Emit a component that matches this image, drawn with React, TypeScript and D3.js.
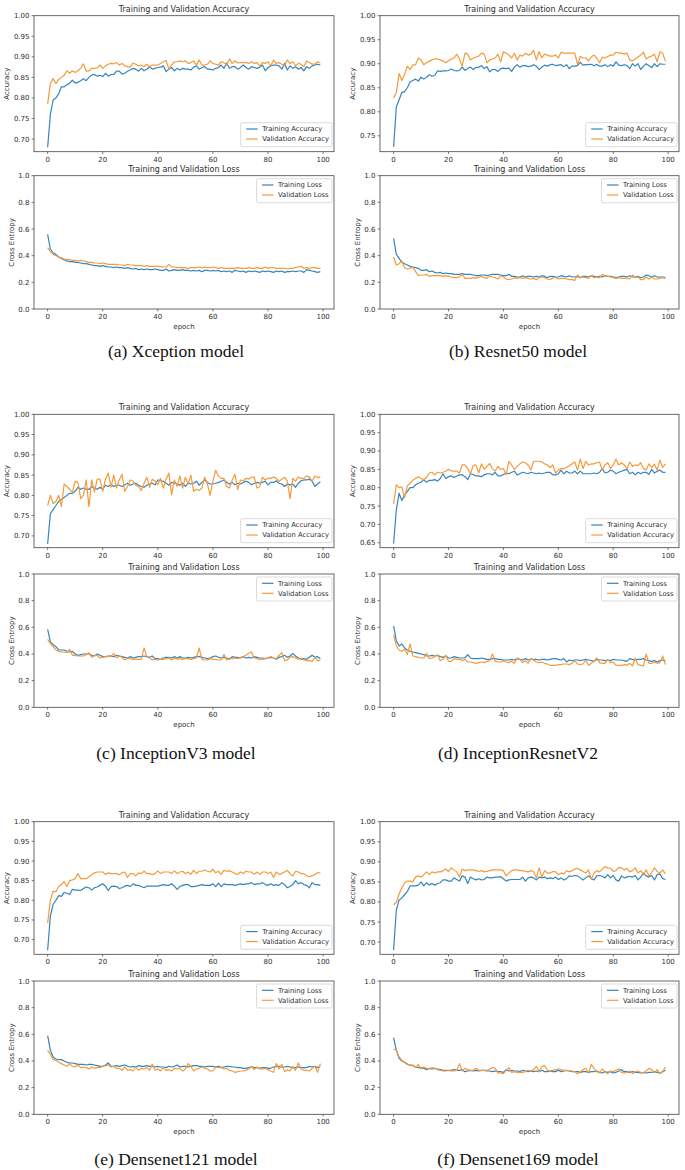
import React from "react";
import * as d3 from "d3";

// ---------------- DATA ----------------
const epochTicks = [0, 20, 40, 60, 80, 100];
const accTickValues = [0.65, 0.7, 0.75, 0.8, 0.85, 0.9, 0.95, 1.0];
const lossTickValues = [0, 0.2, 0.4, 0.6, 0.8, 1.0];

const xceptionTrainAcc = [.680,.760,.795,.800,.810,.827,.827,.832,.836,.843,.836,.838,.842,.847,.842,.850,.856,.857,.853,.855,.852,.860,.853,.857,.857,.865,.865,.858,.860,.865,.868,.872,.870,.865,.872,.866,.870,.876,.870,.872,.874,.875,.878,.864,.870,.874,.866,.872,.868,.872,.870,.870,.868,.875,.878,.870,.874,.876,.870,.870,.868,.872,.874,.880,.872,.885,.872,.876,.876,.870,.874,.880,.874,.870,.876,.874,.872,.875,.880,.866,.874,.878,.880,.880,.878,.870,.884,.868,.878,.872,.876,.870,.874,.866,.876,.872,.878,.880,.882,.880];
const xceptionValAcc = [.785,.835,.847,.835,.845,.850,.855,.866,.860,.866,.862,.866,.872,.883,.865,.866,.872,.872,.873,.880,.872,.878,.882,.884,.883,.886,.880,.884,.878,.876,.875,.885,.882,.878,.880,.876,.882,.876,.880,.880,.880,.884,.888,.891,.870,.880,.888,.888,.890,.888,.890,.884,.886,.890,.880,.892,.880,.880,.882,.890,.884,.882,.880,.888,.886,.880,.895,.884,.890,.885,.886,.886,.886,.884,.888,.884,.886,.878,.886,.884,.888,.878,.892,.884,.886,.882,.878,.892,.884,.888,.878,.884,.882,.876,.890,.886,.882,.882,.888,.885];
const xceptionTrainLoss = [.560,.450,.420,.410,.390,.380,.370,.360,.355,.355,.350,.350,.345,.340,.340,.335,.330,.325,.325,.320,.325,.320,.315,.315,.310,.315,.310,.310,.305,.310,.305,.300,.305,.295,.300,.295,.300,.295,.295,.300,.295,.290,.290,.300,.285,.290,.295,.290,.290,.295,.290,.290,.285,.290,.285,.290,.280,.290,.290,.285,.290,.285,.290,.280,.285,.280,.285,.275,.290,.285,.280,.285,.275,.285,.280,.285,.280,.275,.285,.280,.285,.280,.275,.285,.280,.285,.275,.280,.280,.285,.280,.285,.285,.275,.295,.290,.285,.280,.275,.280];
const xceptionValLoss = [.460,.430,.410,.400,.390,.385,.375,.370,.370,.365,.365,.360,.365,.360,.355,.350,.350,.345,.345,.340,.345,.340,.335,.335,.335,.335,.330,.330,.325,.335,.330,.330,.325,.325,.325,.320,.325,.320,.320,.320,.320,.318,.315,.315,.335,.315,.315,.310,.310,.310,.310,.305,.310,.310,.310,.315,.310,.315,.310,.310,.315,.310,.305,.310,.305,.305,.305,.305,.305,.310,.305,.305,.305,.310,.305,.305,.310,.305,.305,.315,.305,.310,.310,.305,.305,.305,.305,.300,.305,.305,.310,.315,.320,.305,.310,.305,.310,.310,.305,.305];

const resnetTrainAcc = [.727,.810,.825,.840,.842,.850,.862,.865,.868,.864,.872,.868,.872,.877,.874,.876,.885,.884,.885,.885,.886,.889,.886,.885,.886,.893,.886,.890,.893,.888,.892,.893,.896,.890,.894,.883,.888,.888,.884,.890,.891,.890,.891,.884,.893,.898,.893,.896,.896,.894,.895,.898,.895,.888,.893,.897,.895,.898,.899,.896,.897,.898,.894,.898,.890,.895,.895,.896,.903,.897,.898,.898,.899,.896,.899,.895,.895,.898,.894,.898,.895,.904,.897,.896,.898,.896,.890,.900,.895,.900,.888,.895,.900,.896,.892,.900,.894,.900,.899,.899];
const resnetValAcc = [.828,.840,.880,.865,.878,.895,.888,.897,.898,.912,.908,.898,.902,.905,.908,.910,.910,.908,.906,.902,.906,.910,.912,.920,.910,.895,.922,.920,.908,.912,.914,.916,.922,.920,.902,.908,.910,.912,.920,.904,.925,.922,.918,.912,.922,.908,.918,.916,.922,.918,.920,.928,.908,.925,.912,.920,.918,.916,.916,.918,.912,.924,.922,.922,.922,.922,.922,.898,.915,.912,.912,.906,.914,.918,.912,.902,.914,.912,.915,.918,.918,.924,.922,.922,.920,.922,.908,.906,.910,.914,.918,.924,.910,.914,.916,.920,.904,.925,.922,.905];
const resnetTrainLoss = [.530,.410,.380,.350,.340,.330,.320,.315,.310,.305,.290,.290,.295,.280,.285,.275,.270,.275,.265,.270,.265,.265,.260,.260,.260,.265,.260,.260,.260,.255,.250,.250,.255,.255,.250,.255,.260,.260,.260,.255,.250,.250,.260,.245,.245,.240,.240,.250,.240,.245,.245,.240,.245,.240,.250,.245,.235,.245,.245,.240,.240,.250,.245,.240,.250,.240,.240,.245,.235,.245,.245,.240,.250,.245,.240,.245,.240,.250,.245,.245,.240,.235,.240,.245,.245,.240,.250,.240,.240,.245,.235,.240,.255,.250,.240,.250,.240,.240,.240,.235];
const resnetValLoss = [.390,.330,.340,.360,.310,.300,.305,.315,.280,.250,.255,.255,.260,.245,.250,.250,.250,.250,.245,.250,.245,.240,.235,.235,.240,.260,.230,.230,.230,.235,.230,.240,.245,.235,.230,.250,.240,.235,.225,.250,.240,.225,.220,.225,.235,.230,.235,.230,.235,.230,.225,.230,.220,.235,.240,.235,.225,.220,.235,.235,.225,.230,.230,.225,.220,.220,.215,.255,.235,.240,.235,.230,.250,.235,.240,.235,.260,.250,.245,.240,.235,.230,.235,.230,.230,.230,.225,.255,.235,.240,.220,.220,.240,.225,.240,.225,.225,.230,.235,.230];

const inceptionTrainAcc = [.680,.755,.765,.775,.785,.790,.795,.800,.805,.805,.810,.820,.815,.818,.815,.815,.822,.818,.815,.820,.815,.825,.822,.826,.822,.825,.825,.822,.826,.830,.825,.828,.830,.825,.822,.820,.825,.828,.830,.826,.838,.836,.835,.830,.825,.832,.830,.828,.825,.830,.822,.830,.828,.830,.835,.825,.832,.838,.832,.828,.828,.830,.832,.835,.838,.832,.828,.832,.826,.830,.828,.832,.835,.832,.826,.830,.832,.830,.832,.835,.826,.832,.832,.836,.830,.828,.822,.828,.826,.828,.820,.830,.836,.838,.838,.840,.835,.822,.828,.834];
const inceptionValAcc = [.775,.800,.780,.785,.800,.772,.828,.822,.815,.808,.835,.832,.792,.800,.838,.772,.838,.808,.840,.840,.810,.840,.855,.820,.850,.818,.838,.852,.810,.822,.838,.835,.825,.822,.812,.830,.845,.820,.840,.835,.826,.842,.818,.840,.855,.802,.838,.822,.848,.818,.845,.828,.850,.810,.815,.812,.818,.845,.828,.800,.835,.862,.848,.842,.842,.822,.818,.838,.852,.815,.838,.836,.842,.840,.845,.845,.818,.822,.845,.838,.842,.842,.845,.842,.835,.840,.845,.835,.792,.842,.835,.845,.842,.842,.848,.845,.835,.848,.844,.845];
const inceptionTrainLoss = [.585,.490,.470,.455,.430,.430,.430,.420,.415,.420,.400,.390,.395,.400,.400,.400,.390,.385,.400,.390,.380,.380,.385,.385,.380,.390,.385,.380,.375,.370,.380,.370,.375,.380,.380,.385,.380,.375,.385,.365,.365,.360,.370,.375,.375,.370,.380,.370,.380,.370,.370,.375,.370,.375,.380,.380,.375,.370,.365,.370,.380,.385,.375,.370,.375,.370,.360,.380,.375,.375,.370,.380,.370,.375,.370,.380,.375,.370,.370,.365,.370,.375,.370,.360,.375,.380,.390,.375,.385,.405,.385,.370,.360,.365,.360,.375,.390,.375,.380,.365];
const inceptionValLoss = [.510,.480,.455,.430,.420,.415,.415,.410,.435,.390,.390,.385,.385,.385,.395,.410,.375,.390,.390,.370,.375,.380,.380,.385,.405,.370,.385,.375,.355,.370,.365,.360,.360,.360,.360,.445,.380,.370,.355,.360,.355,.360,.360,.365,.370,.355,.370,.360,.365,.360,.365,.365,.360,.365,.370,.445,.360,.355,.355,.365,.360,.360,.355,.355,.395,.355,.370,.365,.370,.365,.375,.380,.390,.405,.415,.370,.365,.360,.360,.365,.370,.380,.370,.365,.390,.410,.350,.355,.375,.380,.370,.360,.370,.355,.350,.350,.345,.375,.350,.350];

const incResTrainAcc = [.648,.740,.785,.765,.780,.790,.800,.800,.808,.812,.815,.822,.815,.820,.820,.822,.818,.825,.838,.825,.830,.832,.828,.832,.835,.835,.830,.822,.838,.836,.832,.832,.830,.835,.838,.838,.835,.842,.832,.832,.836,.840,.838,.842,.845,.835,.838,.842,.840,.838,.842,.840,.838,.840,.838,.840,.842,.842,.835,.835,.838,.848,.838,.845,.840,.840,.845,.838,.845,.838,.838,.838,.838,.840,.838,.842,.852,.840,.842,.848,.845,.838,.842,.845,.848,.850,.838,.842,.835,.842,.838,.842,.842,.836,.850,.840,.845,.848,.842,.842];
const incResValAcc = [.755,.808,.800,.802,.772,.805,.812,.820,.825,.830,.825,.822,.828,.840,.842,.835,.842,.840,.842,.845,.850,.846,.845,.845,.840,.862,.862,.852,.838,.860,.862,.840,.865,.850,.858,.866,.852,.845,.858,.850,.852,.835,.872,.862,.850,.858,.865,.870,.868,.862,.848,.872,.872,.872,.870,.865,.862,.855,.862,.840,.848,.852,.852,.855,.860,.865,.870,.848,.878,.852,.872,.862,.865,.865,.868,.870,.848,.862,.868,.852,.862,.878,.862,.868,.862,.852,.870,.858,.862,.860,.868,.852,.848,.865,.855,.864,.848,.875,.855,.865];
const incResTrainLoss = [.610,.500,.460,.475,.445,.430,.420,.415,.410,.405,.400,.395,.385,.385,.390,.385,.390,.380,.375,.385,.370,.370,.380,.375,.370,.370,.370,.395,.370,.365,.365,.365,.370,.365,.360,.360,.365,.365,.360,.360,.355,.355,.355,.360,.355,.365,.360,.355,.365,.355,.360,.360,.360,.355,.360,.360,.355,.360,.365,.365,.360,.355,.365,.340,.355,.350,.355,.355,.350,.355,.360,.355,.350,.345,.360,.355,.355,.350,.355,.350,.360,.355,.355,.355,.350,.345,.365,.360,.355,.360,.360,.365,.355,.350,.345,.350,.340,.350,.355,.350];
const incResValLoss = [.545,.460,.430,.420,.435,.395,.475,.385,.380,.375,.370,.370,.405,.365,.370,.380,.395,.350,.360,.390,.345,.345,.365,.360,.360,.350,.360,.340,.340,.335,.330,.335,.340,.335,.345,.350,.400,.345,.340,.340,.350,.340,.335,.345,.330,.370,.360,.335,.350,.330,.365,.355,.340,.335,.340,.330,.325,.315,.315,.315,.320,.320,.325,.325,.320,.330,.350,.325,.320,.325,.355,.315,.330,.345,.370,.335,.330,.330,.360,.335,.340,.315,.315,.315,.320,.315,.330,.310,.370,.320,.315,.310,.400,.330,.330,.340,.330,.335,.385,.320];

const dense121TrainAcc = [.673,.760,.790,.800,.812,.810,.820,.818,.815,.828,.826,.826,.825,.830,.834,.832,.826,.832,.834,.838,.842,.836,.825,.835,.836,.835,.830,.832,.836,.838,.835,.842,.838,.838,.835,.832,.836,.836,.836,.836,.836,.838,.840,.838,.838,.842,.836,.828,.835,.838,.840,.840,.835,.835,.836,.838,.840,.838,.838,.838,.842,.835,.844,.835,.842,.840,.840,.840,.838,.840,.842,.840,.842,.842,.845,.840,.842,.842,.845,.840,.838,.842,.838,.840,.838,.845,.840,.832,.835,.840,.850,.842,.845,.840,.838,.832,.845,.840,.840,.838];
const dense121ValAcc = [.742,.800,.823,.822,.835,.840,.848,.835,.850,.852,.855,.868,.855,.855,.855,.860,.865,.870,.872,.872,.872,.866,.870,.868,.868,.868,.865,.870,.872,.858,.868,.868,.862,.870,.868,.874,.868,.868,.865,.868,.875,.868,.872,.872,.872,.868,.875,.868,.872,.874,.868,.872,.866,.876,.868,.874,.874,.877,.874,.872,.879,.870,.874,.866,.876,.874,.875,.872,.868,.866,.872,.868,.874,.872,.872,.866,.872,.866,.872,.872,.868,.872,.858,.872,.866,.868,.872,.876,.868,.862,.874,.872,.868,.868,.862,.860,.862,.866,.870,.870];
const dense121TrainLoss = [.590,.480,.430,.415,.410,.410,.400,.390,.385,.385,.380,.375,.375,.375,.370,.375,.375,.370,.365,.360,.360,.370,.385,.360,.360,.365,.360,.365,.370,.360,.355,.360,.355,.365,.360,.360,.365,.360,.360,.355,.360,.355,.355,.350,.360,.355,.360,.370,.355,.360,.360,.355,.360,.365,.365,.360,.360,.355,.360,.360,.360,.355,.360,.350,.355,.360,.360,.355,.355,.350,.350,.345,.345,.350,.355,.350,.350,.345,.350,.350,.345,.345,.355,.360,.360,.355,.355,.360,.355,.350,.350,.355,.350,.350,.350,.360,.355,.360,.350,.360];
const dense121ValLoss = [.480,.450,.410,.405,.390,.380,.370,.360,.380,.360,.355,.370,.350,.355,.350,.340,.355,.345,.350,.350,.360,.365,.370,.355,.360,.345,.345,.330,.355,.330,.335,.325,.355,.330,.345,.340,.350,.330,.375,.330,.340,.325,.350,.330,.335,.325,.345,.340,.345,.325,.340,.380,.360,.325,.340,.345,.355,.345,.340,.325,.325,.355,.350,.355,.340,.345,.330,.325,.315,.320,.325,.325,.330,.340,.360,.335,.355,.340,.340,.345,.335,.325,.315,.380,.340,.375,.320,.335,.325,.360,.330,.385,.340,.330,.330,.325,.345,.360,.315,.380];

const dense169TrainAcc = [.680,.780,.805,.810,.818,.826,.840,.840,.840,.842,.850,.840,.848,.842,.846,.842,.846,.848,.855,.855,.852,.852,.860,.856,.852,.865,.862,.846,.862,.858,.855,.858,.855,.856,.862,.860,.860,.862,.862,.863,.858,.852,.855,.856,.856,.856,.856,.862,.852,.860,.862,.860,.855,.862,.860,.862,.858,.860,.858,.862,.856,.860,.855,.858,.865,.864,.866,.865,.860,.855,.860,.865,.858,.855,.865,.866,.864,.860,.868,.860,.866,.855,.852,.865,.860,.862,.864,.862,.866,.855,.862,.872,.865,.862,.866,.855,.868,.870,.858,.856];
const dense169ValAcc = [.793,.800,.820,.835,.848,.852,.852,.850,.862,.865,.862,.868,.875,.868,.875,.872,.875,.875,.878,.882,.876,.885,.880,.875,.862,.882,.878,.880,.880,.880,.878,.876,.878,.875,.876,.878,.880,.880,.880,.880,.878,.865,.872,.878,.880,.880,.878,.878,.876,.875,.878,.876,.860,.885,.862,.878,.872,.872,.876,.875,.868,.872,.870,.878,.875,.878,.882,.884,.880,.876,.872,.880,.856,.872,.878,.875,.882,.888,.885,.884,.876,.878,.886,.885,.880,.884,.875,.878,.885,.872,.878,.868,.880,.865,.874,.885,.876,.872,.880,.870];
const dense169TrainLoss = [.575,.480,.420,.400,.390,.375,.370,.365,.355,.350,.350,.345,.335,.345,.340,.345,.340,.335,.330,.330,.330,.330,.335,.330,.330,.335,.320,.325,.330,.325,.330,.325,.330,.330,.325,.325,.320,.325,.320,.320,.315,.335,.325,.330,.325,.325,.320,.330,.325,.320,.325,.320,.325,.320,.330,.320,.320,.325,.320,.320,.330,.320,.325,.330,.325,.320,.320,.320,.315,.320,.320,.315,.320,.320,.325,.315,.310,.320,.315,.320,.310,.315,.325,.335,.320,.320,.315,.320,.315,.315,.310,.315,.310,.315,.315,.320,.315,.310,.320,.330];
const dense169ValLoss = [.490,.480,.430,.405,.390,.380,.365,.370,.350,.375,.340,.355,.345,.340,.350,.345,.335,.330,.325,.325,.330,.325,.325,.330,.380,.325,.345,.335,.330,.330,.345,.330,.330,.330,.330,.340,.350,.345,.310,.310,.305,.330,.350,.315,.320,.315,.315,.315,.320,.330,.325,.335,.360,.320,.360,.365,.330,.325,.330,.335,.340,.335,.330,.330,.325,.325,.320,.305,.320,.335,.345,.310,.375,.345,.320,.310,.340,.320,.305,.325,.320,.330,.340,.315,.310,.315,.325,.305,.320,.325,.315,.310,.325,.345,.335,.315,.335,.305,.320,.355];

const captions = [
  "(a) Xception model",
  "(b) Resnet50 model",
  "(c) InceptionV3 model",
  "(d) InceptionResnetV2",
  "(e) Densenet121 model",
  "(f) Densenet169 model",
];

// ---------------- LAYOUT ----------------
const COLS = [
  { L: 34, R: 334, cx: 176 },
  { L: 380, R: 679, cx: 518 },
];
const ROWS = [
  { accTop: 15.7, accBot: 151.7, lossTop: 175.7, lossBot: 309, capY: 357 },
  { accTop: 414.3, accBot: 547.7, lossTop: 574, lossBot: 707.3, capY: 759 },
  { accTop: 821.7, accBot: 954.3, lossTop: 981, lossBot: 1114.3, capY: 1165 },
];

const BLUE = "#3585bd";
const ORANGE = "#f59a3a";
const TXT = "#2e2e2e";
const FONT = "'DejaVu Sans', sans-serif";

type Series = { train: number[]; val: number[] };

function Subplot(props: {
  L: number; R: number; top: number; bot: number;
  data: Series; kind: "acc" | "loss"; showEpoch: boolean;
}) {
  const { L, R, top, bot, data, kind, showEpoch } = props;
  const n = data.train.length;
  const x = d3.scaleLinear().domain([-0.05 * (n - 1), (n - 1) * 1.05]).range([L, R]);
  let yDomain: [number, number];
  if (kind === "acc") {
    const all = data.train.concat(data.val);
    const mn = d3.min(all) as number, mx = d3.max(all) as number;
    yDomain = [mn - 0.05 * (mx - mn), 1.0];
  } else {
    yDomain = [0, 1];
  }
  const y = d3.scaleLinear().domain(yDomain).range([bot, top]);
  const line = d3.line<number>().x((_, i) => x(i)).y((d) => y(d));
  const yTicks = (kind === "acc" ? accTickValues : lossTickValues).filter(
    (t) => t >= yDomain[0] - 1e-9 && t <= yDomain[1] + 1e-9
  );
  const fmt = kind === "acc" ? d3.format(".2f") : d3.format(".1f");
  const title = kind === "acc" ? "Training and Validation Accuracy" : "Training and Validation Loss";
  const yLabel = kind === "acc" ? "Accuracy" : "Cross Entropy";
  const labels = kind === "acc" ? ["Training Accuracy", "Validation Accuracy"] : ["Training Loss", "Validation Loss"];
  const midY = (top + bot) / 2;
  const midX = (L + R) / 2;

  const legW = kind === "acc" ? 91.3 : 75.5;
  const legH = 24;
  const legX = R - 2 - legW;
  const legY = kind === "acc" ? bot - 5 - legH : top + 3;
  const clipId = `clip-${Math.round(L)}-${Math.round(top)}`;

  return (
    <g>
      <defs>
        <clipPath id={clipId}>
          <rect x={L} y={top} width={R - L} height={bot - top} />
        </clipPath>
      </defs>
      <text x={midX} y={top - 4} textAnchor="middle" fontFamily={FONT} fontSize={8} fill={TXT}>
        {title}
      </text>
      <g clipPath={`url(#${clipId})`}>
        <path d={line(data.train) || ""} fill="none" stroke={BLUE} strokeWidth={1.2} strokeLinejoin="round" />
        <path d={line(data.val) || ""} fill="none" stroke={ORANGE} strokeWidth={1.2} strokeLinejoin="round" />
      </g>
      <rect x={L} y={top} width={R - L} height={bot - top} fill="none" stroke="#444" strokeWidth={0.8} />
      {yTicks.map((t) => (
        <g key={"y" + t}>
          <line x1={L - 2.4} x2={L} y1={y(t)} y2={y(t)} stroke="#444" strokeWidth={0.7} />
          <text x={L - 4.5} y={y(t) + 2.5} textAnchor="end" fontFamily={FONT} fontSize={7} fill={TXT}>
            {fmt(t)}
          </text>
        </g>
      ))}
      {epochTicks.map((t) => (
        <g key={"x" + t}>
          <line x1={x(t)} x2={x(t)} y1={bot} y2={bot + 2.4} stroke="#444" strokeWidth={0.7} />
          <text x={x(t)} y={bot + 10} textAnchor="middle" fontFamily={FONT} fontSize={7} fill={TXT}>
            {t}
          </text>
        </g>
      ))}
      <text
        transform={`translate(${kind === "acc" ? L - 25.5 : L - 20},${midY}) rotate(-90)`}
        textAnchor="middle" fontFamily={FONT} fontSize={7} fill={TXT}
      >
        {yLabel}
      </text>
      {showEpoch && (
        <text x={midX} y={bot + 19.5} textAnchor="middle" fontFamily={FONT} fontSize={7} fill={TXT}>
          epoch
        </text>
      )}
      <rect x={legX} y={legY} width={legW} height={legH} rx={1.5} fill="white" fillOpacity={0.8} stroke="#cccccc" strokeWidth={0.7} />
      {labels.map((lab, i) => {
        const ly = legY + 6.3 + i * 10;
        return (
          <g key={lab}>
            <line x1={legX + 5.5} x2={legX + 17} y1={ly} y2={ly} stroke={i === 0 ? BLUE : ORANGE} strokeWidth={1.2} />
            <text x={legX + 21.5} y={ly + 2.4} fontFamily={FONT} fontSize={6.8} fill={TXT}>
              {lab}
            </text>
          </g>
        );
      })}
    </g>
  );
}

const panels = [
  { acc: { train: xceptionTrainAcc, val: xceptionValAcc }, loss: { train: xceptionTrainLoss, val: xceptionValLoss } },
  { acc: { train: resnetTrainAcc, val: resnetValAcc }, loss: { train: resnetTrainLoss, val: resnetValLoss } },
  { acc: { train: inceptionTrainAcc, val: inceptionValAcc }, loss: { train: inceptionTrainLoss, val: inceptionValLoss } },
  { acc: { train: incResTrainAcc, val: incResValAcc }, loss: { train: incResTrainLoss, val: incResValLoss } },
  { acc: { train: dense121TrainAcc, val: dense121ValAcc }, loss: { train: dense121TrainLoss, val: dense121ValLoss } },
  { acc: { train: dense169TrainAcc, val: dense169ValAcc }, loss: { train: dense169TrainLoss, val: dense169ValLoss } },
];

export default function App() {
  return (
    <svg
      width={685}
      height={1170}
      viewBox="0 0 685 1170"
      style={{ position: "absolute", left: 0, top: 0, background: "white" }}
    >
      <rect x={0} y={0} width={685} height={1170} fill="white" />
      {panels.map((p, i) => {
        const col = COLS[i % 2];
        const row = ROWS[Math.floor(i / 2)];
        return (
          <g key={i}>
            <Subplot L={col.L} R={col.R} top={row.accTop} bot={row.accBot} data={p.acc} kind="acc" showEpoch={false} />
            <Subplot L={col.L} R={col.R} top={row.lossTop} bot={row.lossBot} data={p.loss} kind="loss" showEpoch={true} />
            <text x={col.cx} y={row.capY} textAnchor="middle" fontFamily="'Liberation Serif', 'Times New Roman', serif" fontSize={17.5} fill="#111">
              {captions[i]}
            </text>
          </g>
        );
      })}
    </svg>
  );
}
